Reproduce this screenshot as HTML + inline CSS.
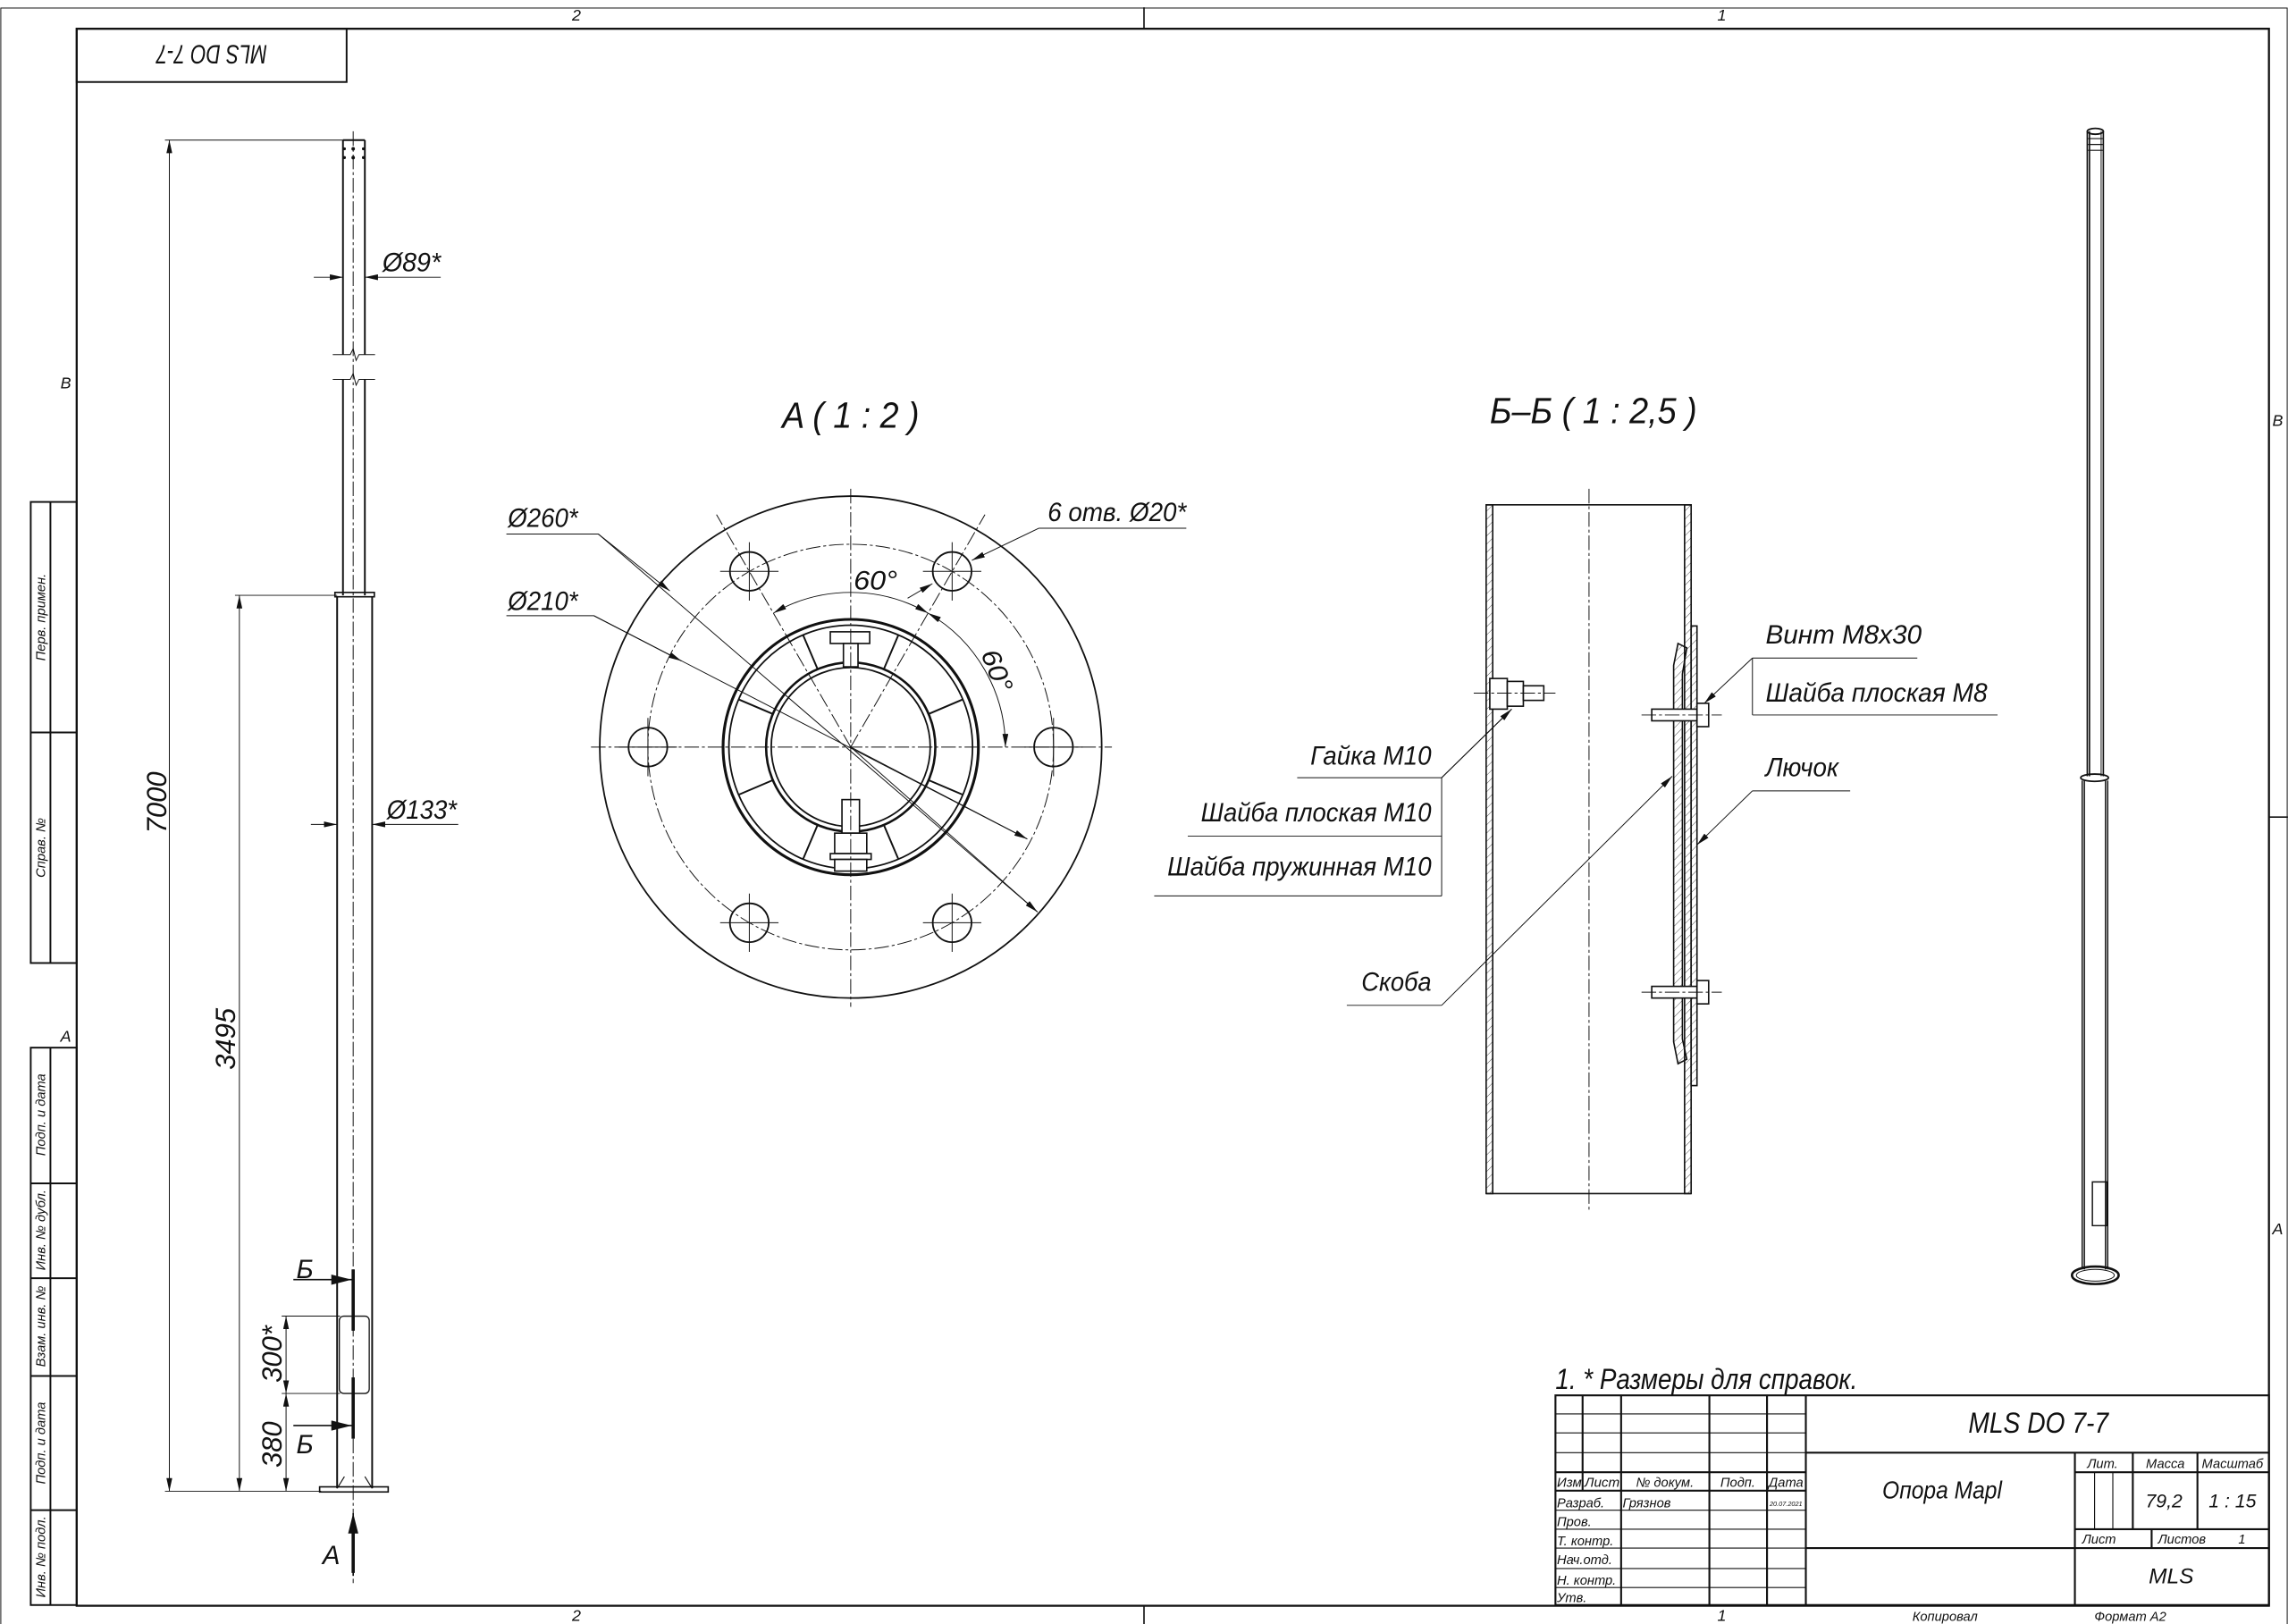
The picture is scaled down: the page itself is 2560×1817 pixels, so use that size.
<!DOCTYPE html>
<html><head><meta charset="utf-8"><style>
html,body{margin:0;padding:0;background:#fff}
svg{display:block}
text{font-family:"Liberation Sans",sans-serif;font-style:italic;fill:#111}
</style></head><body>
<svg width="2560" height="1817" viewBox="0 0 1568 1113" xmlns="http://www.w3.org/2000/svg">
<defs>
<marker id="a" markerUnits="userSpaceOnUse" markerWidth="9" markerHeight="4" refX="9" refY="2" orient="auto-start-reverse"><path d="M0,0 L9,2 L0,4z" fill="#111"/></marker>
<marker id="b" markerUnits="userSpaceOnUse" markerWidth="14" markerHeight="7" refX="14" refY="3.5" orient="auto"><path d="M0,0 L14,3.5 L0,7z" fill="#111"/></marker>
<pattern id="h" width="4" height="4" patternUnits="userSpaceOnUse" patternTransform="rotate(45)"><line x1="0" y1="0" x2="0" y2="4" stroke="#333" stroke-width="0.5"/></pattern>
</defs>
<g fill="none" stroke="#111">
<rect x="0.5" y="5.5" width="1567" height="1110" stroke-width="0.6"/>
<rect x="52.5" y="19.7" width="1502.5" height="1080.8" stroke-width="1.4"/>
<line x1="784" y1="5" x2="784" y2="19.7" stroke-width="1"/>
<line x1="784" y1="1100" x2="784" y2="1113" stroke-width="1"/>
<line x1="1555" y1="560" x2="1568" y2="560" stroke-width="1"/>
<rect x="52.5" y="19.7" width="185" height="36.5" stroke-width="1.2"/>
<rect x="21" y="344" width="31.5" height="316" stroke-width="1.2"/>
<line x1="34.5" y1="344" x2="34.5" y2="660" stroke-width="1.2"/>
<line x1="21" y1="502" x2="52.5" y2="502" stroke-width="1.2"/>
<rect x="21" y="718" width="31.5" height="382" stroke-width="1.2"/>
<line x1="34.5" y1="718" x2="34.5" y2="1100" stroke-width="1.2"/>
<path d="M21,811H52.5M21,876H52.5M21,943H52.5M21,1035H52.5" stroke-width="1.2"/>

<g stroke-width="1.2">
<path d="M235,96V243M250,96V243M235,260V408M250,260V408M235,96H250"/>
<path d="M228,243H240L242,239L244,247L246,243H257M228,260H240L242,256L244,264L246,260H257" stroke-width="0.6"/>
<rect x="229.5" y="406" width="27" height="3" stroke-width="1"/>
<path d="M231,409V1020M255,409V1020"/>
<rect x="219" y="1019" width="47" height="3.5" stroke-width="1"/>
<path d="M231,1020L236,1012M255,1020L250,1012M231,1012V1020M255,1012V1020" stroke-width="0.7"/>
<rect x="232.5" y="902" width="20.5" height="53" rx="3" stroke-width="0.8"/>
</g>
<g fill="#111" stroke="none"><circle cx="236" cy="102" r="1"/><circle cx="242" cy="102" r="1.2"/><circle cx="249" cy="102" r="1"/><circle cx="236" cy="108" r="1"/><circle cx="242" cy="108" r="1.2"/><circle cx="249" cy="108" r="1"/></g>
<line x1="242" y1="90" x2="242" y2="1085" stroke-width="0.6" stroke-dasharray="10 2 2 2"/>
<g stroke-width="0.6">
<path d="M113,96H240M113,1022H220M161,408H231M193,902H233M193,955H233"/>
<line x1="116" y1="1022" x2="116" y2="96" marker-start="url(#a)" marker-end="url(#a)"/>
<line x1="164" y1="1022" x2="164" y2="408" marker-start="url(#a)" marker-end="url(#a)"/>
<line x1="196" y1="902" x2="196" y2="955" marker-start="url(#a)" marker-end="url(#a)"/>
<line x1="196" y1="955" x2="196" y2="1022" marker-start="url(#a)" marker-end="url(#a)"/>
<line x1="215" y1="190" x2="235" y2="190" marker-end="url(#a)"/>
<line x1="302" y1="190" x2="250" y2="190" marker-end="url(#a)"/>
<line x1="213" y1="565" x2="231" y2="565" marker-end="url(#a)"/>
<line x1="314" y1="565" x2="255" y2="565" marker-end="url(#a)"/>
</g>
<g stroke-width="2.2"><path d="M242,870V912M242,944V986M242,1078V1050"/></g>
<line x1="201" y1="877" x2="241" y2="877" stroke-width="1" marker-end="url(#b)"/>
<line x1="201" y1="977" x2="241" y2="977" stroke-width="1" marker-end="url(#b)"/>
<line x1="242" y1="1080" x2="242" y2="1037" stroke-width="1" marker-end="url(#b)"/>

<g stroke-width="1.1">
<circle cx="583" cy="512" r="172"/>
<circle cx="583" cy="512" r="139" stroke-width="0.6" stroke-dasharray="10 2 2 2"/>
<circle cx="722" cy="512" r="13.3"/><circle cx="444" cy="512" r="13.3"/>
<circle cx="652.5" cy="391.6" r="13.3"/><circle cx="513.5" cy="391.6" r="13.3"/>
<circle cx="652.5" cy="632.4" r="13.3"/><circle cx="513.5" cy="632.4" r="13.3"/>
<circle cx="583" cy="512" r="87.5" stroke-width="1.9"/>
<circle cx="583" cy="512" r="83.5"/>
<circle cx="583" cy="512" r="58" stroke-width="1.6"/>
<circle cx="583" cy="512" r="54.5"/>
</g>
<g stroke-width="1.2" transform="translate(583 512)">
<path d="M53.4,-22.7L76.4,-32.5M53.4,22.7L76.4,32.5M-53.4,-22.7L-76.4,-32.5M-53.4,22.7L-76.4,32.5M22.7,-53.4L32.5,-76.4M-22.7,-53.4L-32.5,-76.4M22.7,53.4L32.5,76.4M-22.7,53.4L-32.5,76.4"/>
</g>
<g stroke-width="1" fill="#fff">
<rect x="569" y="433" width="27" height="8"/><rect x="578" y="441" width="10" height="16"/>
<rect x="577" y="548" width="12" height="23"/><rect x="572" y="571" width="22" height="14"/>
<rect x="569" y="585" width="28" height="4"/><rect x="572" y="589" width="22" height="8"/>
</g>
<g stroke-width="0.6" stroke-dasharray="10 2 2 2">
<path d="M405,512H762M583,335V690M583,512L675,352.7M583,512L491,352.7"/>
</g>
<g stroke-width="0.6">
<path d="M702,512H742M722,492V532M424,512H464M444,492V532M632.5,391.6H672.5M652.5,371.6V411.6M493.5,391.6H533.5M513.5,371.6V411.6M632.5,632.4H672.5M652.5,612.4V652.4M493.5,632.4H533.5M513.5,612.4V652.4"/>
<path d="M347,366H410L711,625" />
<line x1="410" y1="366" x2="459" y2="405" marker-end="url(#a)"/>
<line x1="583" y1="512" x2="711" y2="625" marker-end="url(#a)"/>
<path d="M347,422H407L704,575"/>
<line x1="407" y1="422" x2="467" y2="453" marker-end="url(#a)"/>
<line x1="583" y1="512" x2="704" y2="575" marker-end="url(#a)"/>
<path d="M813,362H712"/>
<line x1="712" y1="362" x2="666" y2="384" marker-end="url(#a)"/>
<line x1="622" y1="410" x2="639" y2="400" marker-end="url(#a)"/>
<path d="M530,420.2A106,106 0 0 1 636,420.2" marker-start="url(#a)" marker-end="url(#a)"/>
<path d="M636,420.2A106,106 0 0 1 689,512" marker-start="url(#a)" marker-end="url(#a)"/>
</g>

<g stroke-width="1">
<rect x="1018.5" y="346" width="4.5" height="472" fill="url(#h)"/>
<rect x="1154.5" y="346" width="4.5" height="472" fill="url(#h)"/>
<path d="M1018.5,346H1159M1018.5,818H1159"/>
<rect x="1159" y="429" width="4" height="315" fill="url(#h)"/>
<path d="M1150,441L1156,444L1153,462V712L1156,726L1150,729L1147,714V456Z" fill="url(#h)"/>
<rect x="1132" y="486" width="31" height="8" fill="#fff"/><rect x="1163" y="482" width="8" height="16" fill="#fff"/>
<rect x="1132" y="676" width="31" height="8" fill="#fff"/><rect x="1163" y="672" width="8" height="16" fill="#fff"/>
<rect x="1021" y="465" width="12" height="21" fill="#fff"/><rect x="1033" y="467" width="11" height="17" fill="#fff"/><rect x="1044" y="470" width="14" height="10" fill="#fff"/>
</g>
<g stroke-width="0.6" stroke-dasharray="10 2 2 2"><path d="M1089,335V831M1125,490H1180M1125,680H1180M1010,475H1066"/></g>
<g stroke-width="0.6">
<path d="M889,533H988L1036,486M814,573H988M791,614H988M988,533V614M923,689H988"/>
<line x1="988" y1="533" x2="1036" y2="486" marker-end="url(#a)"/>
<line x1="988" y1="689" x2="1146" y2="532" marker-end="url(#a)"/>
<path d="M1314,451H1201M1369,490H1201M1201,451V490M1268,542H1201"/>
<line x1="1201" y1="451" x2="1168" y2="482" marker-end="url(#a)"/>
<line x1="1201" y1="542" x2="1163" y2="579" marker-end="url(#a)"/>
</g>

<g stroke-width="1.1">
<path d="M1430.5,90V532M1441.5,90V532M1432,90V532" stroke-width="1"/>
<path d="M1440,90V532" stroke-width="0.6"/>
<ellipse cx="1436" cy="90" rx="5.5" ry="2"/>
<path d="M1431,95H1441M1431,99H1441M1431,103H1441" stroke-width="0.7"/>
<ellipse cx="1435.5" cy="533" rx="9.5" ry="2.5"/>
<path d="M1427,535V870M1444.5,535V870M1428.5,535V870M1443,535V870" stroke-width="0.9"/>
<ellipse cx="1436" cy="874" rx="16" ry="6" stroke-width="1.6"/>
<ellipse cx="1436" cy="874" rx="13" ry="4" stroke-width="0.6"/>
<path d="M1434,810H1444V840H1434Z" stroke-width="0.9"/>
</g>

<g stroke-width="1.3">
<rect x="1066" y="956.3" width="489" height="143.7"/>
<path d="M1111,956V1100M1171.5,956V1100M1211,956V1100M1237.6,956V1100M1084.6,956V1021.6"/>
<path d="M1066,1009H1237.6M1066,1021.6H1237.6M1237.6,995.6H1555M1237.6,1061H1555M1422,995.6V1100M1422,1009H1555M1422,1048H1555M1461.7,995.6V1048M1506,995.6V1048M1474.6,1048V1061"/>
</g>
<g stroke-width="0.7">
<path d="M1066,969H1237.6M1066,982H1237.6M1066,995.6H1237.6M1066,1035H1237.6M1066,1048H1237.6M1066,1061H1237.6M1066,1075H1237.6M1066,1088H1237.6M1435.5,1009V1048M1448,1009V1048"/>
</g>
</g>

<g font-size="11">
<text x="395" y="14" text-anchor="middle">2</text>
<text x="1180" y="14" text-anchor="middle">1</text>
<text x="395" y="1111" text-anchor="middle">2</text>
<text x="1180" y="1111" text-anchor="middle">1</text>
<text x="45" y="266" text-anchor="middle">B</text>
<text x="45" y="714" text-anchor="middle">A</text>
<text x="1561" y="292" text-anchor="middle">B</text>
<text x="1561" y="846" text-anchor="middle">A</text>
</g>
<text x="145" y="45" font-size="18" text-anchor="middle" transform="rotate(180 145 38)" textLength="76" lengthAdjust="spacingAndGlyphs">MLS DO 7-7</text>
<g font-size="9">
<text transform="translate(31 423) rotate(-90)" text-anchor="middle">Перв. примен.</text>
<text transform="translate(31 581) rotate(-90)" text-anchor="middle">Справ. №</text>
<text transform="translate(31 764) rotate(-90)" text-anchor="middle">Подп. и дата</text>
<text transform="translate(31 843) rotate(-90)" text-anchor="middle">Инв. № дубл.</text>
<text transform="translate(31 909) rotate(-90)" text-anchor="middle">Взам. инв. №</text>
<text transform="translate(31 989) rotate(-90)" text-anchor="middle">Подп. и дата</text>
<text transform="translate(31 1067) rotate(-90)" text-anchor="middle">Инв. № подл.</text>
</g>
<g font-size="19">
<text transform="translate(114 550) rotate(-90)" text-anchor="middle">7000</text>
<text transform="translate(161 712) rotate(-90)" text-anchor="middle">3495</text>
<text transform="translate(193 928) rotate(-90)" text-anchor="middle">300*</text>
<text transform="translate(193 990) rotate(-90)" text-anchor="middle">380</text>
</g>
<g font-size="18">
<text x="262" y="186" textLength="40" lengthAdjust="spacingAndGlyphs">Ø89*</text>
<text x="265" y="561" textLength="48" lengthAdjust="spacingAndGlyphs">Ø133*</text>
<text x="203" y="876">Б</text>
<text x="203" y="996">Б</text>
<text x="221" y="1072">A</text>
<text x="348" y="361" textLength="48" lengthAdjust="spacingAndGlyphs">Ø260*</text>
<text x="348" y="418" textLength="48" lengthAdjust="spacingAndGlyphs">Ø210*</text>
<text x="718" y="357" textLength="95" lengthAdjust="spacingAndGlyphs">6 отв. Ø20*</text>
<text x="585" y="404" textLength="30" lengthAdjust="spacingAndGlyphs">60°</text>
<text transform="translate(672 448) rotate(68)" textLength="30" lengthAdjust="spacingAndGlyphs">60°</text>
</g>
<g font-size="25">
<text x="583" y="293" text-anchor="middle" textLength="94" lengthAdjust="spacingAndGlyphs">A ( 1 : 2 )</text>
<text x="1092" y="290" text-anchor="middle" textLength="142" lengthAdjust="spacingAndGlyphs">Б–Б ( 1 : 2,5 )</text>
</g>
<g font-size="18" text-anchor="end">
<text x="981" y="524" textLength="83" lengthAdjust="spacingAndGlyphs">Гайка M10</text>
<text x="981" y="563" textLength="158" lengthAdjust="spacingAndGlyphs">Шайба плоская M10</text>
<text x="981" y="600" textLength="181" lengthAdjust="spacingAndGlyphs">Шайба пружинная M10</text>
<text x="981" y="679" textLength="48" lengthAdjust="spacingAndGlyphs">Скоба</text>
</g>
<g font-size="18">
<text x="1210" y="441" textLength="107" lengthAdjust="spacingAndGlyphs">Винт M8x30</text>
<text x="1210" y="481" textLength="152" lengthAdjust="spacingAndGlyphs">Шайба плоская M8</text>
<text x="1210" y="532" textLength="50" lengthAdjust="spacingAndGlyphs">Лючок</text>
</g>
<text x="1066" y="952" font-size="20" textLength="207" lengthAdjust="spacingAndGlyphs">1. * Размеры для справок.</text>
<text x="1397" y="982" font-size="20" text-anchor="middle" textLength="96" lengthAdjust="spacingAndGlyphs">MLS DO 7-7</text>
<text x="1331" y="1027" font-size="17" text-anchor="middle" textLength="82" lengthAdjust="spacingAndGlyphs">Опора Mapl</text>
<g font-size="9">
<text x="1441" y="1006" text-anchor="middle">Лит.</text>
<text x="1484" y="1006" text-anchor="middle">Масса</text>
<text x="1530" y="1006" text-anchor="middle">Масштаб</text>
<text x="1427" y="1058">Лист</text>
<text x="1479" y="1058">Листов</text>
<text x="1534" y="1058">1</text>
<text x="1067" y="1019" textLength="17" lengthAdjust="spacingAndGlyphs">Изм</text>
<text x="1086" y="1019" textLength="24" lengthAdjust="spacingAndGlyphs">Лист</text>
<text x="1141" y="1019" text-anchor="middle">№ докум.</text>
<text x="1191" y="1019" text-anchor="middle">Подп.</text>
<text x="1224" y="1019" text-anchor="middle">Дата</text>
<text x="1067" y="1033">Разраб.</text>
<text x="1112" y="1033">Грязнов</text>
<text x="1067" y="1046">Пров.</text>
<text x="1067" y="1059">Т. контр.</text>
<text x="1067" y="1072">Нач.отд.</text>
<text x="1067" y="1086">Н. контр.</text>
<text x="1067" y="1098">Утв.</text>
<text x="1333" y="1111" text-anchor="middle">Копировал</text>
<text x="1460" y="1111" text-anchor="middle">Формат A2</text>
</g>
<text x="1224" y="1032" font-size="4.5" text-anchor="middle">20.07.2021</text>
<g font-size="13" text-anchor="middle">
<text x="1483" y="1033">79,2</text>
<text x="1530" y="1033">1 : 15</text>
<text x="1488" y="1085" font-size="15">MLS</text>
</g>
</svg>
</body></html>
